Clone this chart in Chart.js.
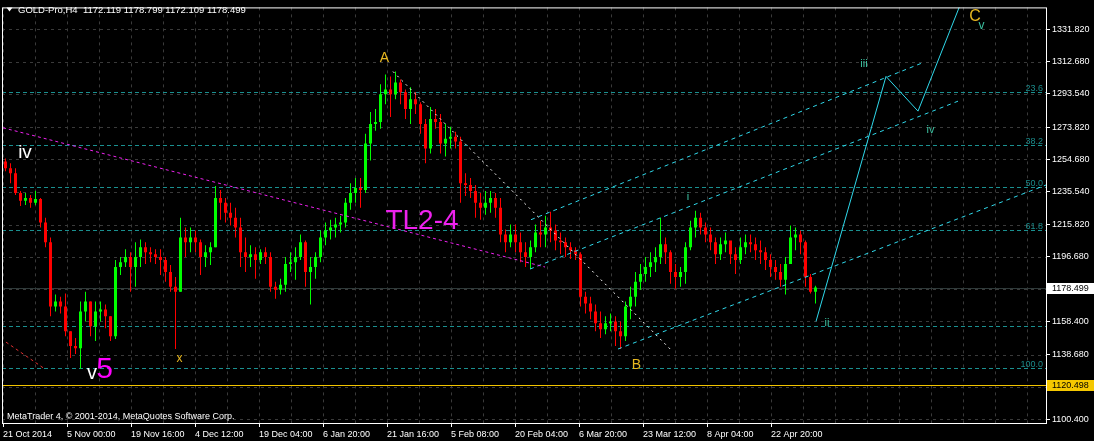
<!DOCTYPE html>
<html>
<head>
<meta charset="utf-8">
<title>GOLD-Pro,H4</title>
<script src="https://cdn.jsdelivr.net/npm/chart.js@4.4.1/dist/chart.umd.min.js"></script>
<style>
  html, body { margin: 0; padding: 0; background: #000; }
  canvas { display: block; }
</style>
</head>
<body>
<canvas id="goldChart" width="1094" height="441"></canvas>
<script>
// GOLD-Pro H4, candles (one candle = 5 H4 bars)
const opens = [
  1253.4, 1249.3, 1246.4, 1234.7, 1230.0, 1231.7, 1228.8, 1231.1, 1217.1, 1205.4,
  1167.2, 1170.2, 1167.2, 1152.6, 1143.8, 1142.5, 1164.3, 1170.2, 1155.5, 1164.3,
  1165.5, 1161.4, 1149.6, 1190.7, 1193.6, 1196.6, 1190.7, 1196.6, 1202.4, 1199.5,
  1198.3, 1196.6, 1194.8, 1187.8, 1179.0, 1176.0, 1208.3, 1205.4, 1208.3, 1205.4,
  1196.6, 1199.5, 1202.4, 1231.7, 1228.8, 1222.9, 1220.0, 1214.1, 1199.5, 1196.6,
  1198.3, 1194.8, 1199.5, 1196.6, 1179.0, 1177.2, 1180.1, 1192.5, 1193.6, 1196.6,
  1205.4, 1187.8, 1190.7, 1196.6, 1208.3, 1212.4, 1214.1, 1215.9, 1217.1, 1228.8,
  1234.7, 1237.6, 1236.4, 1264.0, 1275.7, 1276.9, 1293.3, 1296.2, 1293.3, 1300.3,
  1294.5, 1284.5, 1290.4, 1287.4, 1275.7, 1261.1, 1278.6, 1276.9, 1264.0, 1266.9,
  1268.1, 1265.2, 1240.5, 1239.4, 1235.8, 1228.8, 1225.9, 1228.8, 1231.7, 1225.9,
  1210.0, 1205.4, 1210.0, 1205.4, 1199.5, 1196.6, 1202.4, 1211.2, 1210.0, 1214.1,
  1212.4, 1206.5, 1205.4, 1202.4, 1200.7, 1198.3, 1173.1, 1169.0, 1164.3, 1157.3,
  1153.8, 1157.3, 1158.4, 1152.6, 1149.6, 1167.2, 1173.1, 1181.9, 1186.6, 1190.7,
  1193.6, 1196.6, 1204.2, 1199.5, 1187.8, 1184.8, 1187.8, 1202.4, 1214.1, 1220.0,
  1214.1, 1210.0, 1205.4, 1198.3, 1204.2, 1206.5, 1198.3, 1194.8, 1202.4, 1205.4,
  1204.2, 1200.7, 1199.5, 1194.8, 1190.7, 1187.8, 1183.1, 1192.5, 1208.3, 1210.0,
  1205.4, 1184.8, 1176.0
];
const highs = [
  1255.2, 1252.3, 1249.3, 1235.8, 1234.7, 1233.5, 1235.8, 1231.7, 1220.0, 1208.3,
  1174.3, 1173.1, 1174.9, 1152.6, 1148.5, 1170.2, 1176.0, 1170.2, 1170.2, 1170.2,
  1168.4, 1161.4, 1194.8, 1196.6, 1201.2, 1199.5, 1205.4, 1207.1, 1205.4, 1202.4,
  1201.2, 1201.2, 1196.6, 1191.9, 1184.8, 1220.0, 1214.1, 1214.1, 1212.4, 1207.1,
  1203.6, 1205.4, 1238.8, 1236.4, 1231.7, 1228.8, 1225.9, 1220.0, 1208.3, 1203.6,
  1202.4, 1201.2, 1202.4, 1199.5, 1181.9, 1183.7, 1196.6, 1199.5, 1202.4, 1210.0,
  1206.5, 1196.6, 1199.5, 1212.4, 1217.1, 1218.8, 1220.0, 1221.2, 1231.7, 1240.5,
  1243.5, 1243.5, 1269.8, 1282.7, 1284.5, 1299.2, 1305.0, 1303.9, 1306.8, 1302.1,
  1296.2, 1297.4, 1294.5, 1288.6, 1278.6, 1285.7, 1284.5, 1281.6, 1275.7, 1274.0,
  1271.0, 1268.1, 1246.4, 1243.5, 1239.4, 1234.7, 1235.8, 1235.8, 1234.7, 1231.7,
  1213.0, 1215.9, 1215.9, 1211.2, 1205.4, 1206.5, 1215.9, 1218.2, 1221.2, 1223.5,
  1215.9, 1211.2, 1208.3, 1205.4, 1202.4, 1199.5, 1176.0, 1173.1, 1168.4, 1164.3,
  1161.4, 1163.1, 1161.4, 1158.4, 1170.2, 1179.0, 1187.8, 1192.5, 1196.6, 1199.5,
  1202.4, 1220.0, 1208.3, 1200.7, 1192.5, 1190.7, 1205.4, 1218.2, 1224.1, 1222.9,
  1217.1, 1214.1, 1208.3, 1208.3, 1211.2, 1205.4, 1202.4, 1208.3, 1210.0, 1210.0,
  1208.3, 1206.5, 1202.4, 1198.3, 1194.8, 1192.5, 1196.6, 1215.3, 1214.1, 1212.4,
  1206.5, 1186.6, 1179.6
];
const lows = [
  1247.6, 1240.5, 1233.5, 1227.0, 1227.6, 1225.9, 1227.6, 1214.1, 1202.4, 1161.4,
  1164.3, 1163.1, 1149.6, 1136.7, 1139.1, 1130.3, 1158.4, 1149.6, 1146.7, 1158.4,
  1154.3, 1146.7, 1147.9, 1186.0, 1190.7, 1176.0, 1179.0, 1190.7, 1192.5, 1193.6,
  1192.5, 1186.0, 1181.9, 1176.0, 1142.0, 1176.0, 1196.6, 1199.5, 1199.5, 1186.0,
  1190.7, 1191.9, 1202.4, 1218.8, 1217.1, 1215.3, 1208.3, 1190.7, 1187.8, 1190.7,
  1183.7, 1192.5, 1192.5, 1176.0, 1171.9, 1174.3, 1176.0, 1187.8, 1183.1, 1194.8,
  1179.0, 1168.4, 1183.7, 1193.6, 1203.6, 1207.1, 1208.3, 1211.2, 1214.1, 1224.7,
  1228.8, 1225.9, 1234.7, 1254.0, 1271.6, 1272.8, 1287.4, 1279.8, 1290.4, 1287.4,
  1278.6, 1275.7, 1281.6, 1269.8, 1252.3, 1258.1, 1272.8, 1258.1, 1256.4, 1261.1,
  1261.1, 1228.8, 1232.9, 1231.7, 1220.0, 1218.8, 1221.8, 1222.9, 1220.0, 1205.4,
  1199.5, 1202.4, 1199.5, 1193.6, 1190.7, 1189.5, 1199.5, 1202.4, 1202.4, 1205.4,
  1200.7, 1198.3, 1196.6, 1195.4, 1194.8, 1167.2, 1163.1, 1159.6, 1152.6, 1148.5,
  1150.8, 1152.6, 1143.8, 1142.0, 1146.7, 1159.6, 1167.2, 1177.2, 1181.9, 1184.8,
  1187.8, 1192.5, 1192.5, 1180.7, 1177.8, 1179.0, 1180.7, 1200.7, 1208.3, 1210.0,
  1205.4, 1200.7, 1192.5, 1194.8, 1199.5, 1192.5, 1186.6, 1192.5, 1198.3, 1199.5,
  1194.8, 1192.5, 1188.9, 1184.8, 1183.1, 1179.0, 1174.3, 1192.5, 1200.7, 1198.3,
  1179.0, 1174.9, 1169.0
];
const closes = [
  1249.3, 1246.4, 1234.7, 1230.0, 1231.7, 1228.8, 1231.1, 1217.1, 1205.4, 1167.2,
  1170.2, 1167.2, 1152.6, 1143.8, 1142.5, 1164.3, 1170.2, 1155.5, 1164.3, 1165.5,
  1161.4, 1149.6, 1190.7, 1193.6, 1196.6, 1190.7, 1196.6, 1202.4, 1199.5, 1198.3,
  1196.6, 1194.8, 1187.8, 1179.0, 1176.0, 1208.3, 1205.4, 1208.3, 1205.4, 1196.6,
  1199.5, 1202.4, 1231.7, 1228.8, 1222.9, 1220.0, 1214.1, 1199.5, 1196.6, 1198.3,
  1194.8, 1199.5, 1196.6, 1179.0, 1177.2, 1180.1, 1192.5, 1193.6, 1196.6, 1205.4,
  1187.8, 1190.7, 1196.6, 1208.3, 1212.4, 1214.1, 1215.9, 1217.1, 1228.8, 1234.7,
  1237.6, 1236.4, 1264.0, 1275.7, 1276.9, 1293.3, 1296.2, 1293.3, 1300.3, 1294.5,
  1284.5, 1290.4, 1287.4, 1275.7, 1261.1, 1278.6, 1276.9, 1264.0, 1266.9, 1268.1,
  1265.2, 1240.5, 1239.4, 1235.8, 1228.8, 1225.9, 1228.8, 1231.7, 1225.9, 1210.0,
  1205.4, 1210.0, 1205.4, 1199.5, 1196.6, 1202.4, 1211.2, 1210.0, 1214.1, 1212.4,
  1206.5, 1205.4, 1202.4, 1200.7, 1198.3, 1173.1, 1169.0, 1164.3, 1157.3, 1153.8,
  1157.3, 1158.4, 1152.6, 1149.6, 1167.2, 1173.1, 1181.9, 1186.6, 1190.7, 1193.6,
  1196.6, 1204.2, 1199.5, 1187.8, 1184.8, 1187.8, 1202.4, 1214.1, 1220.0, 1214.1,
  1210.0, 1205.4, 1198.3, 1204.2, 1206.5, 1198.3, 1194.8, 1202.4, 1205.4, 1204.2,
  1200.7, 1199.5, 1194.8, 1190.7, 1187.8, 1183.1, 1192.5, 1208.3, 1210.0, 1205.4,
  1184.8, 1176.0, 1178.499
];

// x is counted in H4 bars from the left edge of the chart
const CANDLE_START = 3.5;
const CANDLE_STEP = 5;
const X_MAX = 1044;
const X_GRID_FIRST = 1;
const X_GRID_STEP = 32;
const xTickLabels = ['21 Oct 2014', '5 Nov 00:00', '19 Nov 16:00', '4 Dec 12:00', '19 Dec 04:00',
  '6 Jan 20:00', '21 Jan 16:00', '5 Feb 08:00', '20 Feb 04:00', '6 Mar 20:00',
  '23 Mar 12:00', '8 Apr 04:00', '22 Apr 20:00'];

// price axis
const Y_MIN = 1098.05;
const Y_MAX = 1344.9;
const yTicks = [1331.82, 1312.68, 1293.54, 1273.82, 1254.68, 1235.54, 1215.82, 1196.68,
  1177.54, 1158.40, 1138.68, 1119.54, 1100.40];
const yTickLabels = ['1331.820', '1312.680', '1293.540', '1273.820', '1254.680', '1235.540',
  '1215.820', '1196.680', '', '1158.400', '1138.680', '', '1100.400'];
const bidPrice = 1178.499;
const alertPrice = 1120.498;

// Fibonacci levels
const fibPrices = [1294.5, 1263.4, 1238.2, 1212.9, 1155.5, 1130.9];
const fibLabels = ['23.6', '38.2', '50.0', '61.8', '', '100.0'];

// trend lines: [bar, price]
const tl24Line = [[1, 1273.4], [543, 1190.7]];
const redLine = [[4, 1146.1], [41, 1130.9]];
const abLine = [[391, 1306.8], [670, 1140.9]];
const channelUpper = [[529, 1218.8], [921, 1312.1]];
const channelMiddle = [[528, 1189.5], [956, 1289.2]];
const channelLower = [[616, 1142.0], [1044, 1239.4]];
const forecastPath = [[814, 1158.4], [884, 1303.9], [916, 1283.3], [972, 1367.1]];

// wave marks
const waveTexts = ['iv', 'v', '5', 'x', 'A', 'TL2-4', 'B', 'i', 'ii', 'iii', 'iv', 'C', 'v'];
const waveBars = [23, 90, 102.5, 177.5, 382.5, 420, 634.5, 686, 825, 862, 928.5, 973, 979.5];
const wavePrices = [1258.7, 1127.7, 1129.7, 1136.1, 1314.7, 1217.7, 1132.6, 1232.6, 1157.3,
  1311.5, 1272.2, 1339.6, 1334.0];

const FONT = '"Liberation Sans", Arial, sans-serif';
const TEAL = '#3cc0a0';
const GOLD = '#e8b820';
const waveStyles = [
  { color: '#ffffff', size: 19 }, { color: '#ffffff', size: 20 }, { color: '#ff00ff', size: 30 },
  { color: GOLD, size: 12 }, { color: GOLD, size: 14 }, { color: '#ee22ee', size: 28 },
  { color: GOLD, size: 14 }, { color: TEAL, size: 11 }, { color: TEAL, size: 11 },
  { color: TEAL, size: 11 }, { color: TEAL, size: 11 }, { color: GOLD, size: 16 },
  { color: TEAL, size: 12 }
];

// candle datasets
const candleBars = closes.map((c, i) => CANDLE_START + i * CANDLE_STEP);
const candleColors = closes.map((c, i) => c >= opens[i] ? '#00ff00' : '#ff0000');
const wickData = closes.map((c, i) => ({ x: candleBars[i], y: [lows[i], highs[i]] }));
const bodyData = closes.map((c, i) => ({ x: candleBars[i], y: [opens[i], c] }));

function lineDataset(points, color, dash) {
    return {
        type: 'line',
        data: points.map(p => ({ x: p[0], y: p[1] })),
        borderColor: color,
        borderWidth: 1,
        borderDash: dash,
        pointRadius: 0,
        tension: 0,
        fill: false,
        order: 0
    };
}

function hLine(ctx, a, py, color, dash) {
    ctx.strokeStyle = color;
    ctx.setLineDash(dash);
    ctx.beginPath();
    ctx.moveTo(a.left, py);
    ctx.lineTo(a.right, py);
    ctx.stroke();
}

// MT4 look: grid, levels, texts, frame, price boxes
const mt4Decor = {
    id: 'mt4Decor',
    beforeDatasetsDraw(chart) {
        const { ctx, chartArea: a, scales: { x, y } } = chart;
        ctx.save();
        ctx.lineWidth = 1;

        // grid
        ctx.strokeStyle = '#3a3a3a';
        ctx.setLineDash([3, 4]);
        x.ticks.forEach(t => {
            const px = Math.floor(x.getPixelForValue(t.value)) + 0.5;
            ctx.beginPath();
            ctx.moveTo(px, a.top);
            ctx.lineTo(px, a.bottom);
            ctx.stroke();
        });
        yTicks.forEach(v => hLine(ctx, a, Math.round(y.getPixelForValue(v)) + 0.5, '#3a3a3a', [3, 4]));

        // fibo levels
        ctx.font = '9px ' + FONT;
        ctx.textAlign = 'right';
        ctx.textBaseline = 'alphabetic';
        fibPrices.forEach((v, i) => {
            const py = Math.round(y.getPixelForValue(v)) + 0.5;
            hLine(ctx, a, py, '#1a9090', [4, 3]);
            ctx.fillStyle = '#1a8a8a';
            ctx.fillText(fibLabels[i], a.right - 3, py - 2);
        });

        // bid and alert lines
        hLine(ctx, a, Math.round(y.getPixelForValue(bidPrice)) + 0.5, '#2f3a3a', []);
        hLine(ctx, a, Math.round(y.getPixelForValue(alertPrice)) + 0.5, '#f2c400', []);
        ctx.restore();
    },
    afterDatasetsDraw(chart) {
        const { ctx, chartArea: a, scales: { x, y } } = chart;
        ctx.save();

        // wave labels
        ctx.textAlign = 'center';
        ctx.textBaseline = 'middle';
        waveTexts.forEach((t, i) => {
            ctx.font = waveStyles[i].size + 'px ' + FONT;
            ctx.fillStyle = waveStyles[i].color;
            ctx.fillText(t, x.getPixelForValue(waveBars[i]), y.getPixelForValue(wavePrices[i]));
        });

        // frame
        ctx.strokeStyle = '#ffffff';
        ctx.lineWidth = 1;
        ctx.setLineDash([]);
        ctx.strokeRect(a.left + 0.5, a.top + 0.5, a.width, a.height);

        // header
        ctx.fillStyle = '#ffffff';
        ctx.beginPath();
        ctx.moveTo(6.5, 7.5);
        ctx.lineTo(12.5, 7.5);
        ctx.lineTo(9.5, 11.5);
        ctx.closePath();
        ctx.fill();
        ctx.font = '9.5px ' + FONT;
        ctx.textAlign = 'left';
        ctx.textBaseline = 'alphabetic';
        ctx.fillText('GOLD-Pro,H4  1172.119 1178.799 1172.109 1178.499', 18, 12.5);

        ctx.font = '9px ' + FONT;
        ctx.fillText('MetaTrader 4, \u00a9 2001-2014, MetaQuotes Software Corp.', 7, 419);
        ctx.restore();
    },
    afterDraw(chart) {
        const { ctx, chartArea: a, scales: { y } } = chart;
        ctx.save();
        ctx.font = '9px ' + FONT;
        ctx.textAlign = 'left';
        ctx.textBaseline = 'middle';
        [[bidPrice, '#ffffff'], [alertPrice, '#f5c800']].forEach(([v, bg]) => {
            const py = Math.round(y.getPixelForValue(v));
            ctx.fillStyle = bg;
            ctx.fillRect(a.right + 1, py - 5, chart.width - a.right - 1, 11);
            ctx.fillStyle = '#000000';
            ctx.fillText(v.toFixed(3), a.right + 6, py + 0.5);
        });
        ctx.restore();
    }
};

const tickFont = { family: FONT, size: 9 };

new Chart(document.getElementById('goldChart'), {
    type: 'bar',
    data: {
        datasets: [
            lineDataset(tl24Line, '#ee22ee', [3, 3]),
            lineDataset(redLine, '#e03030', [3, 3]),
            lineDataset(abLine, '#ffffff', [2, 4]),
            lineDataset(channelUpper, '#2fd8ea', [4, 4]),
            lineDataset(channelMiddle, '#2fd8ea', [4, 4]),
            lineDataset(channelLower, '#2fd8ea', [4, 4]),
            lineDataset(forecastPath, '#2fd8ea', []),
            {
                label: 'body',
                data: bodyData,
                backgroundColor: candleColors,
                barThickness: 3,
                grouped: false,
                inflateAmount: 0,
                borderWidth: 0,
                order: 1
            },
            {
                label: 'wick',
                data: wickData,
                backgroundColor: candleColors,
                barThickness: 1,
                grouped: false,
                inflateAmount: 0,
                borderWidth: 0,
                order: 2
            }
        ]
    },
    options: {
        responsive: false,
        devicePixelRatio: 1,
        animation: false,
        layout: { padding: { left: 2, top: 2, right: 0, bottom: 0 } },
        plugins: {
            legend: { display: false },
            tooltip: { enabled: false }
        },
        scales: {
            x: {
                type: 'linear',
                offset: false,
                min: 0,
                max: X_MAX,
                afterBuildTicks: scale => {
                    const ticks = [];
                    for (let v = X_GRID_FIRST; v < X_MAX; v += X_GRID_STEP) ticks.push({ value: v });
                    scale.ticks = ticks;
                },
                afterFit: scale => { scale.height = 18; },
                border: { display: false },
                grid: {
                    offset: false,
                    drawOnChartArea: false,
                    tickLength: 4,
                    tickColor: c => (c.index % 2 === 0 && xTickLabels[c.index / 2]) ? '#ffffff' : 'rgba(0,0,0,0)'
                },
                ticks: {
                    autoSkip: false,
                    maxRotation: 0,
                    minRotation: 0,
                    align: 'start',
                    padding: 2,
                    color: '#ffffff',
                    font: tickFont,
                    callback: (value, index) => index % 2 === 0 ? (xTickLabels[index / 2] || '') : ''
                }
            },
            y: {
                type: 'linear',
                position: 'right',
                min: Y_MIN,
                max: Y_MAX,
                afterBuildTicks: scale => { scale.ticks = yTicks.map(v => ({ value: v })); },
                afterFit: scale => { scale.width = 48; },
                border: { display: false },
                grid: {
                    drawOnChartArea: false,
                    tickLength: 4,
                    tickColor: c => yTickLabels[c.index] ? '#ffffff' : 'rgba(0,0,0,0)'
                },
                ticks: {
                    autoSkip: false,
                    padding: 2,
                    color: '#ffffff',
                    font: tickFont,
                    callback: (value, index) => yTickLabels[index]
                }
            }
        }
    },
    plugins: [mt4Decor]
});
</script>
</body>
</html>
